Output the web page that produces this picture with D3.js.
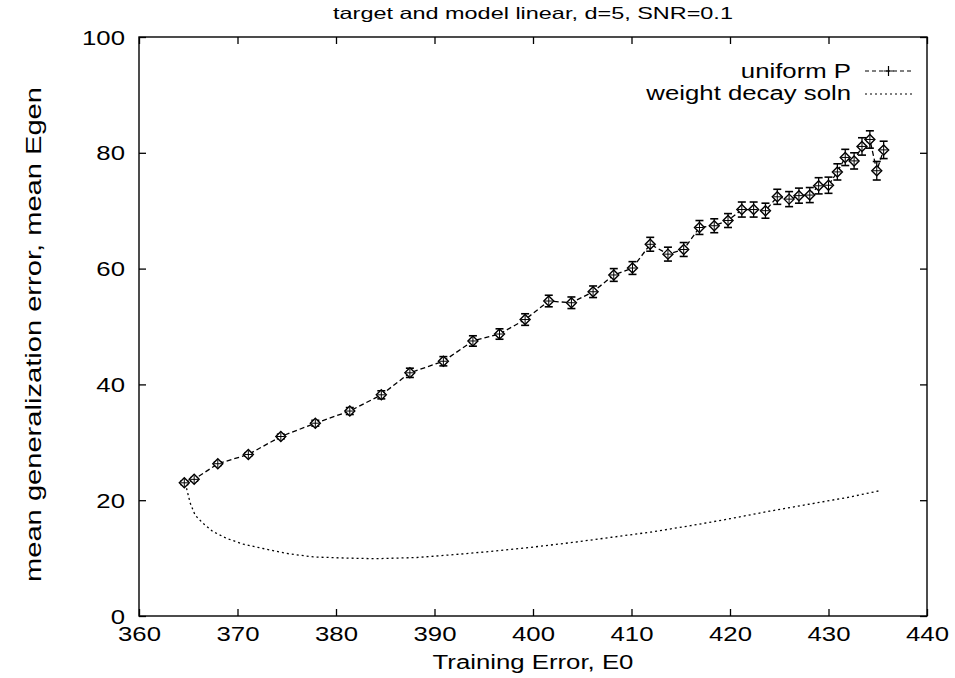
<!DOCTYPE html>
<html><head><meta charset="utf-8">
<script src="https://cdn.jsdelivr.net/npm/d3@7"></script>
<style>body{margin:0;background:#fff}text{font-family:"Liberation Sans",Arial,sans-serif;fill:#000}</style>
</head><body>
<svg id="c" width="955" height="678"></svg>
<script>
const title = "target and model linear, d=5, SNR=0.1";
const xLabel = "Training Error, E0";
const yLabel = "mean generalization error, mean Egen";
const seriesNames = ["uniform P", "weight decay soln"];
const xTicks = [360,370,380,390,400,410,420,430,440];
const yTicks = [0,20,40,60,80,100];

const uniformX = [364.6,365.6,368.0,371.1,374.4,377.9,381.4,384.6,387.5,390.9,393.9,396.6,399.2,401.6,403.9,406.1,408.2,410.1,411.9,413.7,415.3,416.9,418.4,419.8,421.2,422.4,423.6,424.8,426.0,427.0,428.1,429.0,430.0,430.9,431.7,432.6,433.4,434.2,434.9,435.6];
const uniformY = [23.0,23.6,26.3,27.9,31.0,33.3,35.4,38.2,42.0,44.0,47.5,48.7,51.2,54.4,54.1,56.0,58.9,60.1,64.2,62.5,63.3,67.1,67.4,68.3,70.2,70.2,70.0,72.4,72.0,72.6,72.7,74.3,74.4,76.7,79.2,78.6,81.1,82.3,76.9,80.5];
const uniformErr = [0.3,0.3,0.3,0.3,0.4,0.5,0.6,0.7,0.8,0.8,0.9,0.9,1.0,1.0,1.0,1.0,1.1,1.1,1.2,1.2,1.2,1.2,1.2,1.2,1.3,1.3,1.3,1.3,1.3,1.3,1.3,1.4,1.4,1.4,1.4,1.4,1.5,1.5,1.6,1.5];

const decayX = [364.7,365.2,365.7,366.5,367.5,368.9,370.6,373.3,375.0,377.7,381.1,384.1,388.2,392,396,400,404,408,412,416,420,424,428,432,435.1];
const decayY = [22.9,19.5,17.4,16.0,14.6,13.4,12.4,11.4,10.8,10.2,10.0,9.9,10.1,10.6,11.2,11.9,12.7,13.6,14.5,15.6,16.8,18.1,19.3,20.5,21.6];

const svg = d3.select("#c");
const L = 139, R = 927, T = 37, B = 616;
const x = d3.scaleLinear().domain([360,440]).range([L,R]);
const y = d3.scaleLinear().domain([0,100]).range([B,T]);
const tk = 7;
const FONT = "Liberation Sans, Arial, sans-serif";

function stretch(sel, k){
  sel.each(function(){
    const w = this.getComputedTextLength();
    d3.select(this).attr("textLength", w*k).attr("lengthAdjust","spacingAndGlyphs");
  });
}

// frame
svg.append("rect").attr("x",L).attr("y",T).attr("width",R-L).attr("height",B-T)
  .attr("fill","none").attr("stroke","#000").attr("stroke-width",1.4);

// axes (inward ticks, mirrored)
const gx = svg.append("g").attr("transform",`translate(0,${B})`)
  .call(d3.axisBottom(x).tickValues(xTicks).tickSizeInner(-tk).tickSizeOuter(0).tickPadding(10));
const gxt = svg.append("g").attr("transform",`translate(0,${T})`)
  .call(d3.axisTop(x).tickValues(xTicks).tickSizeInner(-tk).tickSizeOuter(0).tickFormat(""));
const gy = svg.append("g").attr("transform",`translate(${L},0)`)
  .call(d3.axisLeft(y).tickValues(yTicks).tickSizeInner(-tk).tickSizeOuter(0).tickPadding(14));
const gyr = svg.append("g").attr("transform",`translate(${R},0)`)
  .call(d3.axisRight(y).tickValues(yTicks).tickSizeInner(-tk).tickSizeOuter(0).tickFormat(""));
[gx,gxt,gy,gyr].forEach(g=>{
  g.select(".domain").remove();
  g.selectAll("line").attr("stroke","#000").attr("stroke-width",1.3);
  g.selectAll("text").style("font-size","19.5px").style("font-family",FONT).attr("fill","#000");
});
gx.selectAll("text").attr("y",25).attr("dy",0);
gy.selectAll("text").attr("dy","0.36em");
stretch(gx.selectAll("text"),1.32);
stretch(gy.selectAll("text"),1.32);

// titles
const tt = svg.append("text").attr("x",(L+R)/2).attr("y",19).attr("text-anchor","middle")
  .style("font-size","16.5px").text(title);
stretch(tt,1.42);
const xl = svg.append("text").attr("x",(L+R)/2).attr("y",669).attr("text-anchor","middle")
  .style("font-size","19.5px").text(xLabel);
stretch(xl,1.32);
const yl = svg.append("text").attr("transform",`translate(41,${(T+B)/2+8}) rotate(-90)`).attr("text-anchor","middle")
  .style("font-size","22px").text(yLabel);
yl.attr("textLength",495).attr("lengthAdjust","spacingAndGlyphs");

// weight decay curve
const decay = decayX.map((v,i)=>[v,decayY[i]]);
svg.append("path").datum(decay)
  .attr("d",d3.line().x(d=>x(d[0])).y(d=>y(d[1])))
  .attr("fill","none").attr("stroke","#000").attr("stroke-width",1.3).attr("stroke-dasharray","2,3");

// uniform P
const uni = uniformX.map((v,i)=>({x:v,y:uniformY[i],e:uniformErr[i]}));
svg.append("path").datum(uni)
  .attr("d",d3.line().x(d=>x(d.x)).y(d=>y(d.y)))
  .attr("fill","none").attr("stroke","#000").attr("stroke-width",1.3).attr("stroke-dasharray","5,3");

const pts = svg.append("g").selectAll("g").data(uni).join("g")
  .attr("transform",d=>`translate(${x(d.x)},${y(d.y)})`);
const cw = 4;
pts.append("line").attr("x1",0).attr("x2",0)
  .attr("y1",d=>y(d.y+d.e)-y(d.y)).attr("y2",d=>y(d.y-d.e)-y(d.y))
  .attr("stroke","#000").attr("stroke-width",1.3);
pts.append("line").attr("x1",-cw).attr("x2",cw)
  .attr("y1",d=>y(d.y+d.e)-y(d.y)).attr("y2",d=>y(d.y+d.e)-y(d.y))
  .attr("stroke","#000").attr("stroke-width",1.6);
pts.append("line").attr("x1",-cw).attr("x2",cw)
  .attr("y1",d=>y(d.y-d.e)-y(d.y)).attr("y2",d=>y(d.y-d.e)-y(d.y))
  .attr("stroke","#000").attr("stroke-width",1.6);
pts.append("path").attr("d","M0,-5L5,0L0,5L-5,0Z").attr("fill","#fff").attr("stroke","#000").attr("stroke-width",1.4);
pts.append("path").attr("d","M-4,0H4M0,-4V4").attr("stroke","#000").attr("stroke-width",1);

// legend
const lgX1 = 865, lgX2 = 912;
const l1 = svg.append("text").attr("x",851).attr("y",78).attr("text-anchor","end").style("font-size","19.5px").text(seriesNames[0]);
stretch(l1,1.32);
svg.append("line").attr("x1",lgX1).attr("x2",lgX2).attr("y1",71).attr("y2",71)
  .attr("stroke","#000").attr("stroke-width",1.2).attr("stroke-dasharray","4,3");
svg.append("path").attr("d",`M${(lgX1+lgX2)/2-5},71H${(lgX1+lgX2)/2+5}M${(lgX1+lgX2)/2},66V76`).attr("stroke","#000").attr("stroke-width",1.2);
const l2 = svg.append("text").attr("x",851).attr("y",100).attr("text-anchor","end").style("font-size","19.5px").text(seriesNames[1]);
stretch(l2,1.32);
svg.append("line").attr("x1",lgX1).attr("x2",lgX2).attr("y1",94).attr("y2",94)
  .attr("stroke","#000").attr("stroke-width",1.2).attr("stroke-dasharray","2,3");
</script>
</body></html>
